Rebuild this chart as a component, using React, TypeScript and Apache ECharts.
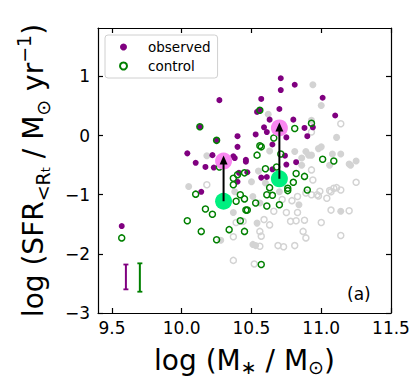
import React, { useEffect, useRef } from "react";
import * as echarts from "echarts";

const xTicks = [9.5, 10.0, 10.5, 11.0, 11.5];
const yTicks = [-3, -2, -1, 0, 1];

const observed: number[][] = [
  [10.27, 0.60], [10.13, 0.15], [10.25, -0.08], [10.04, -0.30], [10.40, -0.01], [10.40, -0.19], [10.22, -0.33], [10.10, -0.46], [10.38, -0.38],
  [10.71, 0.97], [10.71, 0.77], [10.81, 0.86], [10.57, 0.62], [10.56, 0.43], [10.54, 0.40], [10.70, 0.45], [10.63, 0.27], [10.80, 0.27], [10.88, 0.13],
  [10.59, 0.14], [10.53, 0.02], [10.61, 0.06], [10.65, -0.15], [10.75, -0.03], [10.90, -0.01], [10.46, -0.41], [10.75, -0.49], [10.82, -0.45],
  [11.01, 0.64], [11.10, 0.34], [10.94, 0.14],
  [9.57, -1.53],
  [10.17, -0.53], [10.23, -0.54], [10.14, -0.95], [10.41, -0.63], [10.46, -0.44], [10.47, -0.62], [10.57, -0.71], [10.61, -0.70], [10.65, -0.57],
  [10.37, -0.35], [10.74, -0.34], [10.40, -0.78]
];

const control: number[][] = [
  [10.13, 0.15], [10.25, -0.08], [10.56, 0.43], [10.81, 0.12], [10.93, 0.21], [10.66, -0.04], [10.56, -0.17], [10.57, -0.19], [10.54, -0.33],
  [10.71, -0.31], [11.01, -0.40], [11.09, -0.43],
  [9.57, -1.73],
  [10.10, -0.99], [10.17, -1.24], [10.22, -1.33], [10.04, -1.44], [10.14, -1.62], [10.25, -1.76], [10.34, -1.59], [10.27, -0.53], [10.37, -0.72],
  [10.40, -0.66], [10.37, -0.83], [10.45, -0.63], [10.39, -1.11], [10.45, -1.07], [10.46, -1.26], [10.42, -1.44], [10.45, -1.62],
  [10.60, -0.56], [10.68, -0.53], [10.82, -0.64], [10.88, -0.69], [10.80, -0.79], [10.76, -0.89], [10.76, -0.93], [10.63, -0.88], [10.61, -1.00],
  [10.65, -1.01], [10.90, -0.92], [10.42, -1.00], [10.53, -1.14], [10.61, -1.19], [10.70, -1.17], [10.47, -1.26], [10.57, -2.18]
];

const othersFilled: number[][] = [
  [10.05, -0.86], [10.18, -0.34], [10.62, 0.36], [10.63, -0.26], [10.81, -0.27], [10.89, -0.27], [10.93, 0.26], [10.94, 0.86], [11.00, 0.51],
  [11.11, -0.03], [11.00, -0.19], [10.98, -0.22], [10.93, -0.33], [11.14, -0.31], [11.08, -0.31], [11.20, -0.48], [11.25, -0.43], [10.91, -0.33],
  [10.28, -1.77], [10.37, -1.30], [10.38, -0.95], [10.50, -0.78], [10.51, -1.03], [10.56, -1.14], [10.54, -1.48], [10.51, -1.84], [10.53, -1.86],
  [10.84, -1.17], [11.06, -0.50], [11.21, -0.50], [11.14, -1.28], [10.86, -0.38], [10.60, -0.80], [10.70, -0.95], [10.86, -0.50], [10.55, -0.60]
];

const othersOpen: number[][] = [
  [11.14, 0.20], [10.93, 0.06], [10.18, -0.83], [10.39, -1.47], [10.44, -1.45], [10.37, -1.71], [10.37, -2.11],
  [11.25, -0.79], [11.14, -0.92], [11.09, -0.89], [11.06, -0.93], [10.99, -0.94], [10.97, -1.00], [10.93, -1.00], [10.89, -0.97], [11.04, -1.06],
  [10.83, -1.03], [10.79, -1.10], [10.66, -1.28], [10.75, -1.30], [10.83, -1.30], [10.78, -1.45], [10.82, -1.44], [10.88, -1.43], [10.72, -1.08],
  [11.07, -1.26], [11.20, -1.27], [11.00, -1.47], [10.87, -1.62], [10.89, -1.73], [11.14, -1.69], [10.59, -1.42], [10.63, -1.51], [10.56, -1.62],
  [10.57, -1.70], [10.56, -1.87], [10.69, -1.86], [10.73, -1.88], [10.81, -1.86], [10.52, -2.17],
  [10.93, -0.58], [10.94, -0.75], [11.11, -0.88], [10.98, -1.02], [11.07, -0.95]
];

const meanObserved: number[][] = [[10.30, -0.43], [10.70, 0.13]];
const meanControl: number[][] = [[10.30, -1.11], [10.70, -0.73]];

const errObserved: number[][] = [[9.60, -2.18], [9.60, -2.60]];
const errControl: number[][] = [[9.70, -2.16], [9.70, -2.64]];

const FONT = "DejaVu Sans";

export default function App() {
  const ref = useRef<HTMLDivElement>(null);
  useEffect(() => {
    const chart = echarts.init(ref.current!, null, { renderer: "svg" });
    const axisLine = { show: true, onZero: false, lineStyle: { color: "#000", width: 1.2 } };
    const xTick = { show: true, inside: true, length: 5, customValues: xTicks, lineStyle: { color: "#000", width: 1.2 } };
    const yTick = { show: true, inside: true, length: 5, customValues: yTicks, lineStyle: { color: "#000", width: 1.2 } };
    const arrows = meanControl.map((c, i) => ({
      type: "line",
      xAxisIndex: 0,
      yAxisIndex: 0,
      symbol: "none",
      silent: true,
      z: 5,
      lineStyle: { color: "#000", width: 2 },
      data: [
        { value: c, symbol: "none" },
        { value: meanObserved[i], symbol: "triangle", symbolSize: [8, 9], symbolOffset: [0, -1], itemStyle: { color: "#000" } },
      ],
    }));
    const errs = [
      { d: errObserved, c: "#800080" },
      { d: errControl, c: "#008000" },
    ].map((e) => ({
      type: "line",
      symbol: "rect",
      symbolSize: [5, 1.8],
      showSymbol: true,
      silent: true,
      itemStyle: { color: e.c },
      lineStyle: { color: e.c, width: 2 },
      data: e.d,
    }));
    chart.setOption({
      animation: false,
      backgroundColor: "#fff",
      textStyle: { fontFamily: FONT },
      grid: { left: 98, top: 28, width: 293, height: 285, outerBoundsMode: "none", containLabel: false },
      legend: {
        data: ["observed", "control"],
        orient: "vertical",
        left: 105,
        top: 35,
        padding: [4, 7, 4, 14],
        itemGap: 3,
        itemWidth: 7,
        itemHeight: 7,
        borderColor: "#d0d0d0",
        borderWidth: 1,
        borderRadius: 3,
        backgroundColor: "rgba(255,255,255,0.8)",
        textStyle: { fontSize: 13.5, color: "#000", fontFamily: FONT, padding: [0, 0, 0, 16], lineHeight: 16 },
      },
      xAxis: [
        {
          type: "value",
          min: 9.4,
          max: 11.5,
          position: "bottom",
          axisLine,
          axisTick: xTick,
          axisLabel: { customValues: xTicks, formatter: (v: number) => v.toFixed(1), color: "#000", fontSize: 17, margin: 6, fontFamily: FONT },
          splitLine: { show: false },
          name: "log (M{sub|∗} / M{sub|⊙})",
          nameLocation: "middle",
          nameGap: 31,
          nameMoveOverlap: false,
          nameTextStyle: {
            fontSize: 28,
            color: "#000",
            fontFamily: FONT,
            lineHeight: 32,
            verticalAlign: "top",
            rich: {
              sub: { fontSize: 19, lineHeight: 19, verticalAlign: "bottom", color: "#000", fontFamily: FONT },
            },
          },
        },
        {
          type: "value",
          min: 9.4,
          max: 11.5,
          position: "top",
          axisLine,
          axisTick: xTick,
          axisLabel: { show: false },
          splitLine: { show: false },
        },
      ],
      yAxis: [
        {
          type: "value",
          min: -3,
          max: 1.82,
          position: "left",
          axisLine,
          axisTick: yTick,
          axisLabel: {
            customValues: yTicks,
            formatter: (v: number) => (v < 0 ? "\u2212" + Math.abs(v) : String(v)),
            color: "#000",
            fontSize: 17,
            margin: 8,
            fontFamily: FONT,
          },
          splitLine: { show: false },
          name: "log (SFR{sub|<R}{subsub|t} / M{sub|⊙} yr{sup|−1})",
          nameLocation: "middle",
          nameRotate: 90,
          nameGap: 46,
          nameMoveOverlap: false,
          nameTextStyle: {
            fontSize: 28,
            color: "#000",
            fontFamily: FONT,
            lineHeight: 38,
            rich: {
              sub: { fontSize: 19, lineHeight: 19, verticalAlign: "bottom", color: "#000", fontFamily: FONT },
              subsub: { fontSize: 13, lineHeight: 13, verticalAlign: "bottom", color: "#000", fontFamily: FONT },
              sup: { fontSize: 19, lineHeight: 19, verticalAlign: "top", color: "#000", fontFamily: FONT },
            },
          },
        },
        {
          type: "value",
          min: -3,
          max: 1.82,
          position: "right",
          axisLine,
          axisTick: yTick,
          axisLabel: { show: false },
          splitLine: { show: false },
        },
      ],
      graphic: [
        { type: "text", left: 347, top: 285, style: { text: "(a)", fontSize: 17, fontFamily: FONT, fill: "#000" } },
      ],
      series: [
        { type: "scatter", name: "others", symbolSize: 7, silent: true, itemStyle: { color: "#d3d3d3", opacity: 1 }, data: othersFilled },
        {
          type: "scatter",
          name: "others open",
          symbolSize: 6,
          silent: true,
          itemStyle: { color: "rgba(0,0,0,0)", borderColor: "#d3d3d3", borderWidth: 1.5, opacity: 1 },
          data: othersOpen,
        },
        { type: "scatter", name: "observed", symbolSize: 6, silent: true, itemStyle: { color: "#800080", opacity: 1 }, data: observed },
        {
          type: "scatter",
          name: "control",
          symbolSize: 6,
          silent: true,
          itemStyle: { color: "rgba(0,0,0,0)", borderColor: "#008000", borderWidth: 1.5, opacity: 1 },
          data: control,
        },
        { type: "scatter", name: "mean observed", symbolSize: 17, silent: true, itemStyle: { color: "#f987f0", opacity: 1 }, data: meanObserved },
        { type: "scatter", name: "mean control", symbolSize: 17, silent: true, itemStyle: { color: "#00f080", opacity: 1 }, data: meanControl },
        ...arrows,
        ...errs,
      ],
    } as any);
    return () => chart.dispose();
  }, []);
  return <div ref={ref} style={{ position: "absolute", left: 0, top: 0, width: 416, height: 379 }} />;
}
